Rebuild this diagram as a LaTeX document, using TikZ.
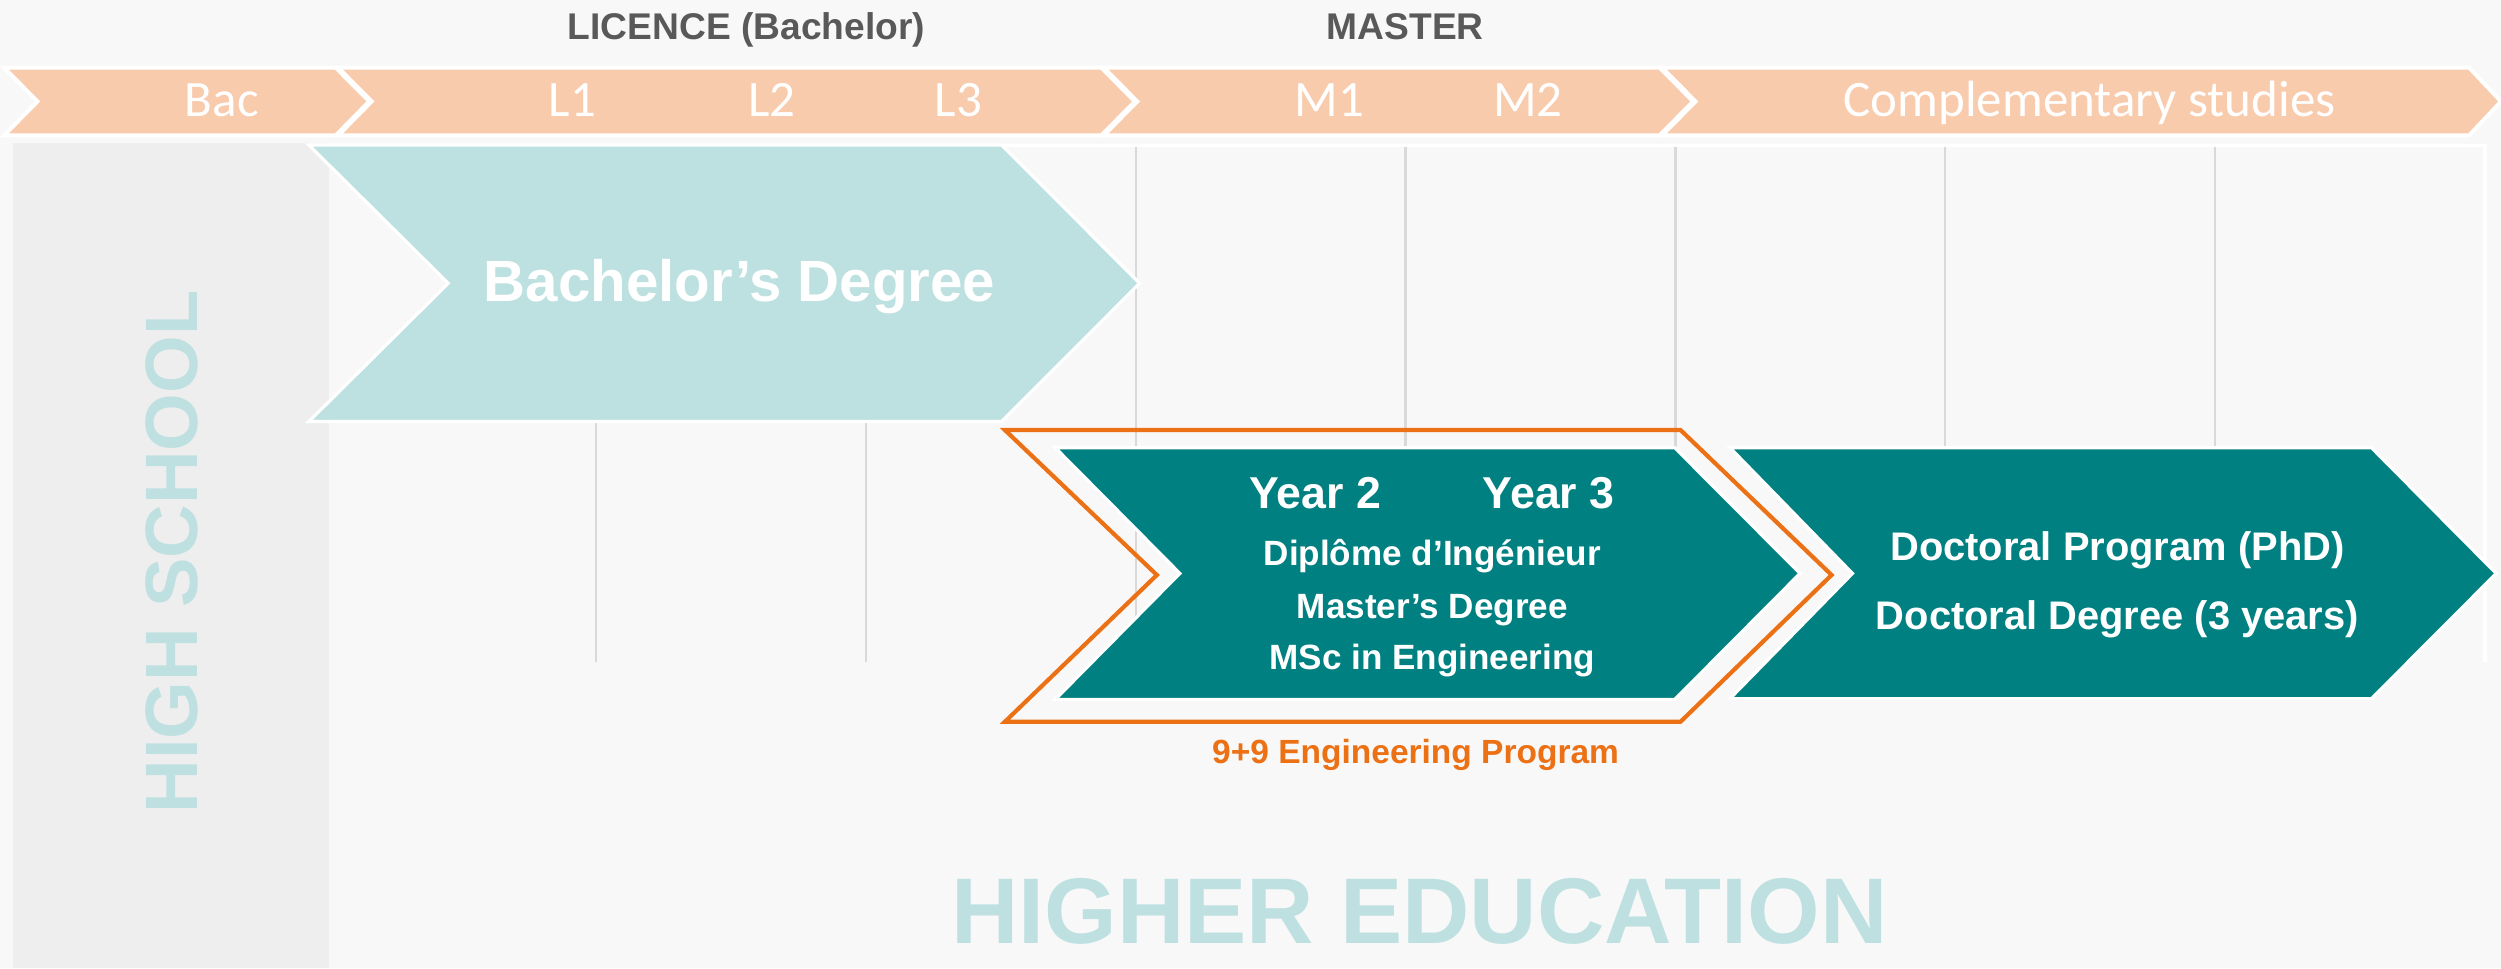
\documentclass[tikz,border=0pt]{standalone}
\usepackage{fontspec}
\setmainfont{Liberation Sans}
\newfontfamily\calib{Carlito}
\definecolor{bgc}{HTML}{F8F8F8}
\definecolor{panelc}{HTML}{EEEEEE}
\definecolor{peach}{HTML}{F8CBAD}
\definecolor{tealc}{HTML}{008080}
\definecolor{lteal}{HTML}{BDE1E0}
\definecolor{titlec}{HTML}{595959}
\definecolor{orangec}{HTML}{EC7014}
\definecolor{gridc}{HTML}{D9D9D9}
\definecolor{markc}{HTML}{BFE0E0}
\tikzset{
  band/.style={fill=peach, draw=white, line width=2.5pt, line join=miter},
  chev/.style={draw=white, line width=2pt, line join=miter},
  gridline/.style={draw=gridc, line width=1.4pt},
  toptitle/.style={anchor=base, text=titlec, font=\bfseries\fontsize{23.3}{26}\selectfont, inner sep=0pt},
  yearlab/.style={anchor=base, text=white, font=\calib\fontsize{32}{36}\selectfont, inner sep=0pt},
  wtext/.style={anchor=base, text=white, inner sep=0pt},
}
\begin{document}
\begin{tikzpicture}[x=1pt,y=-1pt]
\useasboundingbox (0,0) rectangle (1568,606.9);
\fill[bgc] (0,0) rectangle (1568,606.9);
% high school panel
\fill[panelc] (8,89.4) rectangle (206.3,606.9);
% grid area
\draw[white, line width=2pt] (206.3,91) -- (1558,91) -- (1558,415);
\foreach \x in {373.6,542.8,712,881.2,1050.4,1219.6,1388.8}
  \draw[gridline] (\x,92) -- (\x,415);
% top band
\path[band] (2.5,42.4) -- (210.5,42.4) -- (231.5,63.6) -- (210.5,84.9) -- (2.5,84.9) -- (23.5,63.6) -- cycle;
\path[band] (212,42.4) -- (690.5,42.4) -- (711.5,63.6) -- (690.5,84.9) -- (212,84.9) -- (233,63.6) -- cycle;
\path[band] (692,42.4) -- (1040.5,42.4) -- (1061.5,63.6) -- (1040.5,84.9) -- (692,84.9) -- (713,63.6) -- cycle;
\path[band] (1042,42.4) -- (1548,42.4) -- (1568,63.6) -- (1548,84.9) -- (1042,84.9) -- (1063,63.6) -- cycle;
% titles
\node[toptitle] (licence) at (468,25) {LICENCE (Bachelor)};
\node[toptitle] (master) at (881,25) {MASTER};
% band labels
\node[yearlab] (bac) at (139,73) {Bac};
\node[yearlab] (l1) at (359,73) {L1};
\node[yearlab] (l2) at (484,73) {L2};
\node[yearlab] (l3) at (601,73) {L3};
\node[yearlab] (m1) at (833.5,73) {M1};
\node[yearlab] (m2) at (958,73) {M2};
\node[yearlab] (comp) at (1310,73) {Complementary studies};
% bachelor chevron
\path[chev, fill=lteal] (193.6,90.9) -- (628,90.9) -- (714.5,177.6) -- (628,264.3) -- (193.6,264.3) -- (281,177.6) -- cycle;
\node[wtext, font=\bfseries\fontsize{36.5}{40}\selectfont] (bach) at (463.6,189.1) {Bachelor’s Degree};
% orange outline
\draw[orangec, line width=2.6pt, line join=miter] (630,269.6) -- (1053.6,269.6) -- (1148.3,360.5) -- (1053.6,452.5) -- (630,452.5) -- (725.3,360.5) -- cycle;
% engineering chevron
\path[chev, fill=tealc] (661.6,280.7) -- (1050,280.7) -- (1128.5,359.5) -- (1050,438.5) -- (661.6,438.5) -- (739.7,359.5) -- cycle;
\node[wtext, font=\bfseries\fontsize{28}{32}\selectfont] (y2) at (824.5,318.7) {Year 2};
\node[wtext, font=\bfseries\fontsize{28}{32}\selectfont] (y3) at (971,318.7) {Year 3};
\node[wtext, font=\bfseries\fontsize{22}{26}\selectfont] (dipl) at (898,354.7) {Diplôme d’Ingénieur};
\node[wtext, font=\bfseries\fontsize{22}{26}\selectfont] (mast) at (898,387.7) {Master’s Degree};
\node[wtext, font=\bfseries\fontsize{22}{26}\selectfont] (msc) at (898,419.7) {MSc in Engineering};
% doctoral chevron
\path[chev, fill=tealc] (1084.6,280.7) -- (1486.8,280.7) -- (1565,359.5) -- (1486.8,438) -- (1084.6,438) -- (1161.4,359.5) -- cycle;
\node[wtext, font=\bfseries\fontsize{25}{29}\selectfont] (phd) at (1327.5,351.1) {Doctoral Program (PhD)};
\node[wtext, font=\bfseries\fontsize{25}{29}\selectfont] (dd) at (1327.5,394.4) {Doctoral Degree (3 years)};
% program label
\node[anchor=base, inner sep=0pt, text=orangec, font=\bfseries\fontsize{21}{24}\selectfont] (prog) at (887.5,478.6) {9+9 Engineering Program};
% watermarks
\node[rotate=90, inner sep=0pt, text=markc, font=\bfseries\fontsize{46.5}{50}\selectfont] (hs) at (108,346) {HIGH SCHOOL};
\node[inner sep=0pt, text=markc, font=\bfseries\fontsize{58.5}{62}\selectfont] (he) at (890,571.6) {HIGHER EDUCATION};
\end{tikzpicture}
\end{document}
